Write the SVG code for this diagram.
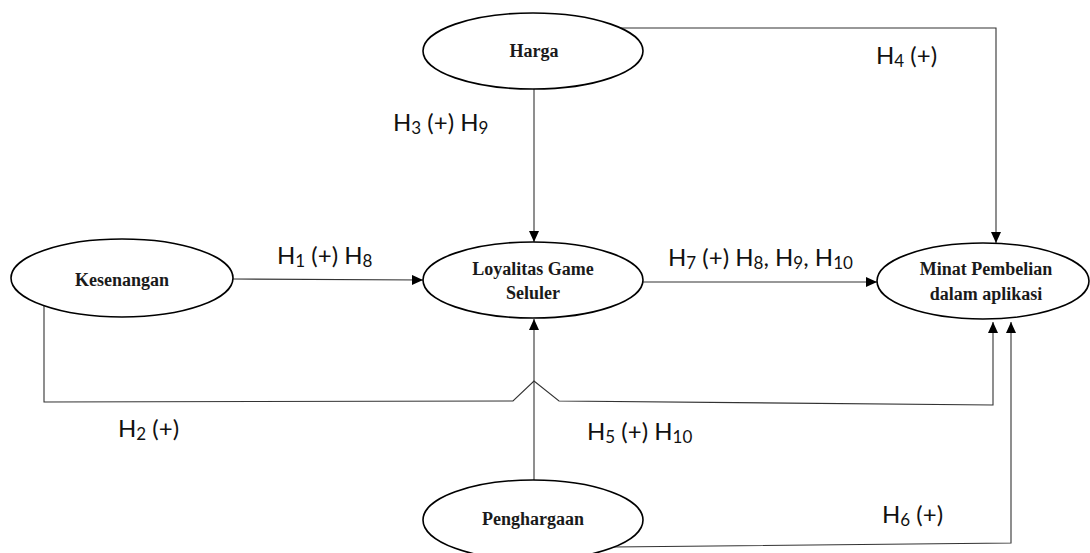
<svg xmlns="http://www.w3.org/2000/svg" width="1090" height="553" viewBox="0 0 1090 553">
  <style>
    .node ellipse { fill: #ffffff; stroke: #000000; stroke-width: 1.6; }
    .ntext { font-family: "Liberation Serif", "Times New Roman", serif; font-weight: bold; font-size: 18px; fill: #1a1a1a; text-anchor: middle; }
    .conn { fill: none; stroke: #333333; stroke-width: 1.1; }
    .lbl { font-family: Lato, "Open Sans", sans-serif; font-size: 24px; fill: #111111; }
    .sub { font-size: 17px; }
  </style>
  <defs>
    <marker id="arrow" markerUnits="userSpaceOnUse" markerWidth="12" markerHeight="10" refX="11" refY="5" orient="auto">
      <path d="M0,0 L11,5 L0,10 Z" fill="#000000"/>
    </marker>
  </defs>
  <rect width="1090" height="553" fill="#ffffff"/>

  <g id="connectors">
    <path class="conn" d="M233,279 L423,280" marker-end="url(#arrow)"/>
    <path class="conn" d="M643,282 L877,282" marker-end="url(#arrow)"/>
    <path class="conn" d="M534,89 L534,242" marker-end="url(#arrow)"/>
    <path class="conn" d="M621,28 L996,28 L996,243" marker-end="url(#arrow)"/>
    <path class="conn" d="M44,306 L44,402 L513,401 L534,381 L559,401 L993,405 L993,322" marker-end="url(#arrow)"/>
    <path class="conn" d="M534,480 L534,319" marker-end="url(#arrow)"/>
    <path class="conn" d="M612,547 L1011,543 L1011,322" marker-end="url(#arrow)"/>
  </g>

  <g id="harga" class="node">
    <ellipse cx="533" cy="51" rx="110" ry="38"/>
    <text class="ntext" x="534" y="57">Harga</text>
  </g>
  <g id="kesenangan" class="node">
    <ellipse cx="122" cy="278" rx="111" ry="39"/>
    <text class="ntext" x="122" y="286">Kesenangan</text>
  </g>
  <g id="loyalitas" class="node">
    <ellipse cx="533" cy="280" rx="110" ry="38"/>
    <text class="ntext" x="533" y="275">Loyalitas Game</text>
    <text class="ntext" x="533" y="299">Seluler</text>
  </g>
  <g id="minat" class="node">
    <ellipse cx="983" cy="281" rx="106" ry="38"/>
    <text class="ntext" x="986" y="275">Minat Pembelian</text>
    <text class="ntext" x="986" y="300">dalam aplikasi</text>
  </g>
  <g id="penghargaan" class="node">
    <ellipse cx="533" cy="520" rx="110" ry="40"/>
    <text class="ntext" x="533" y="525">Penghargaan</text>
  </g>

  <g id="labels">
    <text class="lbl" x="393" y="131">H<tspan class="sub" dy="3">3</tspan><tspan dy="-3"> (+) H</tspan><tspan class="sub" dy="3">9</tspan></text>
    <text class="lbl" x="876" y="64">H<tspan class="sub" dy="3">4</tspan><tspan dy="-3"> (+)</tspan></text>
    <text class="lbl" x="277" y="264">H<tspan class="sub" dy="3">1</tspan><tspan dy="-3"> (+) H</tspan><tspan class="sub" dy="3">8</tspan></text>
    <text class="lbl" x="668" y="266">H<tspan class="sub" dy="3">7</tspan><tspan dy="-3"> (+) H</tspan><tspan class="sub" dy="3">8</tspan><tspan dy="-3">, H</tspan><tspan class="sub" dy="3">9</tspan><tspan dy="-3">, H</tspan><tspan class="sub" dy="3">10</tspan></text>
    <text class="lbl" x="118" y="437">H<tspan class="sub" dy="3">2</tspan><tspan dy="-3"> (+)</tspan></text>
    <text class="lbl" x="587" y="440">H<tspan class="sub" dy="3">5</tspan><tspan dy="-3"> (+) H</tspan><tspan class="sub" dy="3">10</tspan></text>
    <text class="lbl" x="882" y="523">H<tspan class="sub" dy="3">6</tspan><tspan dy="-3"> (+)</tspan></text>
  </g>
</svg>
